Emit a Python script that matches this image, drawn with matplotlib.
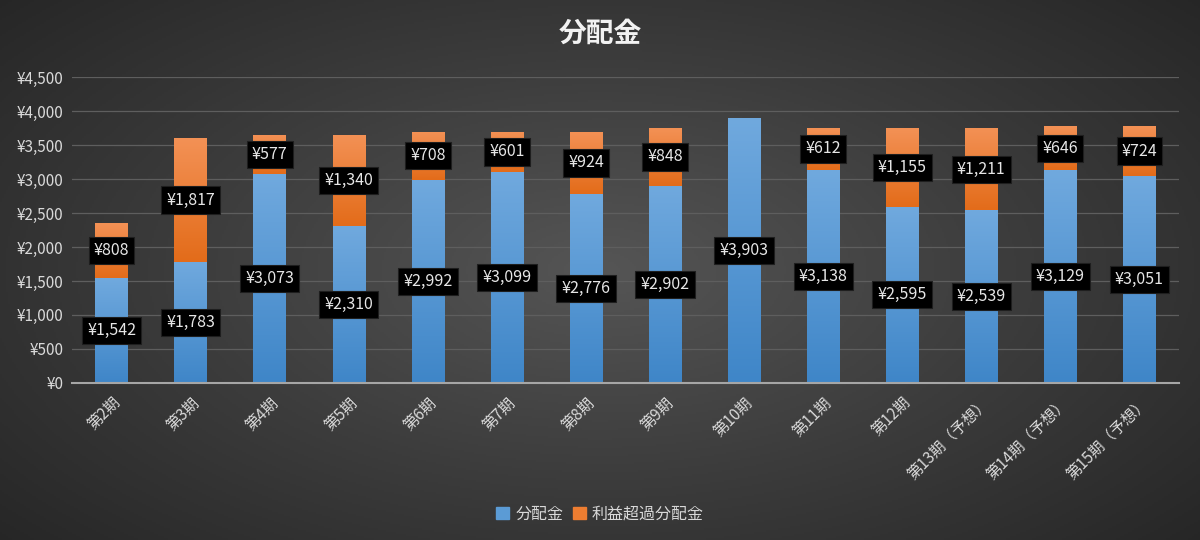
import numpy as np
import matplotlib
matplotlib.use("Agg")
import matplotlib.pyplot as plt
from matplotlib.colors import LinearSegmentedColormap
from matplotlib.patches import Patch

plt.rcParams['font.family'] = ['Noto Sans CJK JP', 'DejaVu Sans']

# データ
periods = ["第2期", "第3期", "第4期", "第5期", "第6期", "第7期", "第8期", "第9期",
           "第10期", "第11期", "第12期", "第13期（予想）", "第14期（予想）", "第15期（予想）"]
dividend = [1542, 1783, 3073, 2310, 2992, 3099, 2776, 2902, 3903, 3138, 2595, 2539, 3129, 3051]
excess = [808, 1817, 577, 1340, 708, 601, 924, 848, 0, 612, 1155, 1211, 646, 724]
series_names = ["分配金", "利益超過分配金"]

fig = plt.figure(figsize=(12, 5.4), dpi=100)

# 背景(放射グラデーション)
bg = fig.add_axes([0, 0, 1, 1], zorder=-10)
yy, xx = np.mgrid[-1:1:270j, -1:1:600j]
r = np.sqrt((xx * 0.9) ** 2 + (yy * 0.8) ** 2)
bg_cmap = LinearSegmentedColormap.from_list("bg", ["#555555", "#3c3c3c", "#252525"])
bg.imshow(r, cmap=bg_cmap, aspect="auto", extent=[0, 1, 0, 1], vmin=0, vmax=1.25)
bg.axis("off")

ax = fig.add_axes([0.06, 0.291, 0.9225, 0.566])
ax.set_facecolor("none")

x = np.arange(len(periods))
w = 0.41
b1 = ax.bar(x, dividend, w, color="#5b9bd5", zorder=3, label=series_names[0])
b2 = ax.bar(x, excess, w, bottom=dividend, color="#ed7d31", zorder=3, label=series_names[1])

# 棒のグラデーション
blue_cmap = LinearSegmentedColormap.from_list("b", ["#3f86c8", "#70a9de"])
orange_cmap = LinearSegmentedColormap.from_list("o", ["#e36c1a", "#f39155"])
grad = np.linspace(0, 1, 100).reshape(-1, 1)
for bars, cm in [(b1, blue_cmap), (b2, orange_cmap)]:
    for p in bars:
        if p.get_height() <= 0:
            continue
        x0, y0 = p.get_x(), p.get_y()
        im = ax.imshow(grad, cmap=cm, origin="lower", aspect="auto", zorder=3.5,
                       extent=[x0, x0 + p.get_width(), y0, y0 + p.get_height()])
        im.set_clip_path(p)

# データラベル
box = dict(boxstyle="square,pad=0.32", fc="black", ec="#1e1e1e", lw=0.8)
for i in x:
    ax.text(i, dividend[i] / 2, f"¥{dividend[i]:,}", ha="center", va="center",
            color="#e6e6e6", fontsize=11.5, bbox=box, zorder=5)
    if excess[i] > 0:
        ax.text(i, dividend[i] + excess[i] / 2, f"¥{excess[i]:,}", ha="center", va="center",
                color="#e6e6e6", fontsize=11.5, bbox=box, zorder=5)

ax.set_xlim(-0.5, len(periods) - 0.5)
ax.set_ylim(0, 4500)
ax.set_yticks(np.arange(0, 4501, 500))
ax.set_yticklabels([f"¥{v:,}" for v in range(0, 4501, 500)])
ax.yaxis.grid(True, color="#5e5e5e", lw=0.9, zorder=0)
ax.set_xticks(x)
ax.set_xticklabels(periods, rotation=45, ha="right", rotation_mode="anchor")
ax.tick_params(axis="both", length=0, colors="#d9d9d9", labelsize=11)
ax.tick_params(axis="x", pad=8)
ax.tick_params(axis="y", pad=6)
for s in ["top", "right", "left"]:
    ax.spines[s].set_visible(False)
ax.spines["bottom"].set_color("#a6a6a6")
ax.spines["bottom"].set_linewidth(1.5)
ax.spines["bottom"].set_zorder(4)

fig.text(0.5, 0.937, "分配金", ha="center", va="center", fontsize=20,
         fontweight="bold", color="#f2f2f2")

handles = [Patch(color="#5b9bd5"), Patch(color="#ed7d31")]
fig.legend(handles, series_names, loc="center", bbox_to_anchor=(0.5, 0.048), ncol=2,
           frameon=False, fontsize=11.5, labelcolor="#d9d9d9", handlelength=0.8,
           handleheight=0.8, handletextpad=0.4, columnspacing=0.6)

fig.savefig("out.png", dpi=100)
